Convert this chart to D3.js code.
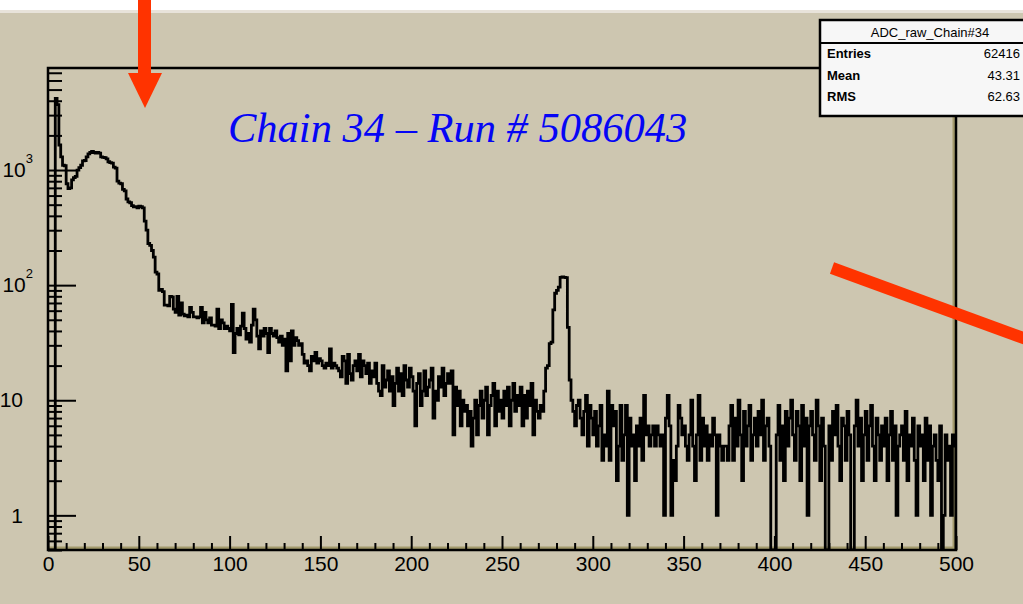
<!DOCTYPE html>
<html>
<head>
<meta charset="utf-8">
<script src="https://cdn.jsdelivr.net/npm/d3@7"></script>
<style>
  html, body { margin: 0; padding: 0; background: #cdc6b0; overflow: hidden; }
  svg { display: block; }
</style>
</head>
<body>
<div id="chart"></div>
<script>
// ADC counts for chain 34, one bin per channel (0..499)
var adcCounts = [
  0,0,0,0,4200,3700,1650,1300,1100,1090,
  760,690,700,820,860,880,1000,1050,1100,1200,
  1210,1300,1380,1420,1450,1420,1400,1420,1400,1300,
  1290,1280,1250,1180,1160,1150,1060,1040,800,770,
  760,680,660,560,530,520,490,480,480,470,
  485,480,470,360,300,230,222,200,175,130,
  125,90,92,88,67,67,66,80,79,62,
  58,80,55,70,56,54,55,53,64,58,
  53,53,52,53,64,47,58,50,47,52,
  45,45,44,62,42,50,47,42,44,42,
  40,68,26,38,42,37,44,57,42,34,
  38,32,45,62,50,36,28,40,36,42,
  38,26,42,38,36,40,35,32,36,30,
  34,18,38,22,40,30,35,33,30,31,
  25,21,22,20,18,24,22,26,21,23,
  22,20,19,21,20,28,19,21,20,19,
  18,16,24,22,14,25,17,15,20,22,
  18,25,16,22,20,17,21,14,18,16,
  21,14,12,11,20,13,15,18,12,16,
  9,14,19,12,17,11,20,15,13,19,
  16,12,6,14,17,9,12,18,11,13,
  15,19,7,12,10,16,13,19,11,14,
  17,14,18,5,13,9,12,6,10,8,
  9,6,8,4,7,10,5,9,12,7,
  10,13,5,9,11,14,6,12,8,10,
  7,12,9,13,6,10,14,8,11,9,
  13,6,11,7,12,9,14,5,10,8,
  7,9,8,12,19,20,31,32,61,85,
  90,96,117,118,117,116,43,15,10,8,
  6,9,10,7,5,8,11,4,9,7,
  5,8,4,6,9,3,5,4,12,3,
  9,6,8,2,4,9,3,5,9,1,
  7,4,5,2,6,4,7,3,11,5,
  6,4,5,6,4,6,5,4,5,1,
  7,11,6,1,3,2,4,9,7,5,
  6,4,3,5,10,4,2,5,11,3,
  7,4,6,3,5,4,7,5,1,5,
  4,3,4,4,3,6,9,3,7,4,
  10,5,2,8,4,6,9,3,5,7,
  4,8,5,10,3,6,7,4,0,0,
  0,5,9,3,6,2,8,4,7,10,
  5,3,8,6,2,9,4,7,1,6,
  8,5,3,10,6,2,7,4,0,0,
  6,3,8,5,9,4,2,7,6,3,
  8,5,0,0,6,10,4,7,2,5,
  8,3,6,9,4,2,7,5,3,6,
  4,7,2,5,8,3,6,1,4,5,
  6,3,8,2,5,4,7,3,1,6,
  4,5,2,7,3,6,1,4,5,3,
  2,6,0,1,5,3,4,1,5,4
];

var xTickValues = [0, 50, 100, 150, 200, 250, 300, 350, 400, 450, 500];
var yTickValues = [1, 10, 100, 1000];
// base and exponent of each y tick label
var yTickLabels = [["1", ""], ["10", ""], ["10", "2"], ["10", "3"]];

var chartTitle = "Chain 34 \u2013 Run # 5086043";
var statsName = "ADC_raw_Chain#34";
var statsLabels = ["Entries", "Mean", "RMS"];
var statsValues = ["62416", "43.31", "62.63"];

var
  WIDTH = 1023,
  HEIGHT = 604,

  BACKGROUND_COLOR = "#cdc6b0",
  SHADOW_COLOR = "#a39a6c",
  ARROW_COLOR = "#ff3300",
  TITLE_COLOR = "#0505f5",

  // frame of the histogram, in pixels
  FRAME_LEFT = 48,
  FRAME_RIGHT = 956,
  FRAME_TOP = 68,
  FRAME_BOTTOM = 550,

  AXIS_FONT = "'Liberation Sans', Arial, sans-serif",
  AXIS_FONT_SIZE = 21;

var svg = d3.select("#chart").append("svg")
  .attr("width", WIDTH)
  .attr("height", HEIGHT);

svg.append("rect")
  .attr("width", WIDTH)
  .attr("height", HEIGHT)
  .attr("fill", BACKGROUND_COLOR);

// white strip of the slide at the very top
svg.append("rect").attr("width", WIDTH).attr("height", 10).attr("fill", "#ffffff");
svg.append("rect").attr("y", 10).attr("width", WIDTH).attr("height", 3).attr("fill", "#e8e3da");

var x = d3.scaleLinear().domain([0, 500]).range([FRAME_LEFT, FRAME_RIGHT]);
var y = d3.scaleLog().domain([0.5, 7700]).range([FRAME_BOTTOM, FRAME_TOP]);

// 3D shadow of the frame on the bottom and right sides
svg.append("line")
  .attr("x1", FRAME_LEFT).attr("x2", FRAME_RIGHT)
  .attr("y1", FRAME_BOTTOM - 2).attr("y2", FRAME_BOTTOM - 2)
  .attr("stroke", SHADOW_COLOR).attr("stroke-width", 3);
svg.append("line")
  .attr("x1", FRAME_RIGHT - 2).attr("x2", FRAME_RIGHT - 2)
  .attr("y1", FRAME_TOP).attr("y2", FRAME_BOTTOM)
  .attr("stroke", SHADOW_COLOR).attr("stroke-width", 3);

svg.append("clipPath").attr("id", "frame-clip")
  .append("rect")
  .attr("x", FRAME_LEFT).attr("y", FRAME_TOP)
  .attr("width", FRAME_RIGHT - FRAME_LEFT)
  .attr("height", FRAME_BOTTOM - FRAME_TOP);

// histogram outline as steps; empty bins drop to the bottom of the frame
var path = d3.path();
path.moveTo(x(0), FRAME_BOTTOM);
adcCounts.forEach(function(count, i){
  var top = count > 0 ? y(count) : FRAME_BOTTOM;
  path.lineTo(x(i), top);
  path.lineTo(x(i + 1), top);
});
path.lineTo(x(adcCounts.length), FRAME_BOTTOM);

svg.append("path")
  .attr("d", path.toString())
  .attr("clip-path", "url(#frame-clip)")
  .attr("fill", "none")
  .attr("stroke", "#000")
  .attr("stroke-width", 2.8)
  .attr("stroke-linejoin", "miter");

function styleAxis(g){
  g.select(".domain").remove();
  g.attr("font-family", AXIS_FONT).attr("font-size", AXIS_FONT_SIZE);
  g.selectAll(".tick line").attr("stroke", "#000").attr("stroke-width", 2);
  g.selectAll(".tick text").attr("fill", "#000");
}

// x axis: major ticks every 50, minor every 10, pointing into the frame
var xMinor = d3.range(0, 501, 10).filter(function(v){ return v % 50 !== 0; });
svg.append("g")
  .attr("transform", "translate(0," + FRAME_BOTTOM + ")")
  .call(d3.axisBottom(x).tickValues(xMinor).tickSizeInner(-7).tickSizeOuter(0).tickFormat(""))
  .call(styleAxis);
svg.append("g")
  .attr("transform", "translate(0," + FRAME_BOTTOM + ")")
  .call(d3.axisBottom(x).tickValues(xTickValues).tickSizeInner(-14).tickSizeOuter(0)
    .tickPadding(6).tickFormat(d3.format("d")))
  .call(styleAxis);

// y axis: log scale, minor ticks at 2..9 of every decade
var yMinor = [];
[0.1, 1, 10, 100, 1000].forEach(function(decade){
  d3.range(2, 10).forEach(function(m){
    var v = m * decade;
    if (v >= 0.5 && v <= 7700) yMinor.push(v);
  });
});
svg.append("g")
  .attr("transform", "translate(" + FRAME_LEFT + ",0)")
  .call(d3.axisLeft(y).tickValues(yMinor).tickSizeInner(-14).tickSizeOuter(0).tickFormat(""))
  .call(styleAxis);
var yAxis = svg.append("g")
  .attr("transform", "translate(" + FRAME_LEFT + ",0)")
  .call(d3.axisLeft(y).tickValues(yTickValues).tickSizeInner(-28).tickSizeOuter(0)
    .tickPadding(25).tickFormat(function(d, i){ return yTickLabels[i][0]; }))
  .call(styleAxis);

yAxis.selectAll(".tick text").each(function(d, i){
  var label = yTickLabels[i];
  if (label[1]) {
    var text = d3.select(this);
    text.attr("x", -15);
    text.append("tspan")
      .attr("dy", -14)
      .attr("font-size", 13)
      .text(label[1]);
  }
});

// frame drawn over the ticks
svg.append("rect")
  .attr("x", FRAME_LEFT).attr("y", FRAME_TOP)
  .attr("width", FRAME_RIGHT - FRAME_LEFT)
  .attr("height", FRAME_BOTTOM - FRAME_TOP)
  .attr("fill", "none")
  .attr("stroke", "#000")
  .attr("stroke-width", 2.5);

svg.append("text")
  .attr("x", 228)
  .attr("y", 142)
  .attr("font-family", "'Liberation Serif', 'Times New Roman', serif")
  .attr("font-style", "italic")
  .attr("font-size", 42.5)
  .attr("fill", TITLE_COLOR)
  .text(chartTitle);

// statistics box, running past the right edge of the slide
var stats = svg.append("g").attr("font-family", AXIS_FONT).attr("font-weight", "bold").attr("font-size", 13);
stats.append("rect")
  .attr("x", 820).attr("y", 20)
  .attr("width", 230).attr("height", 96)
  .attr("fill", "#f7f7f7")
  .attr("stroke", "#000")
  .attr("stroke-width", 2.5);
stats.append("line")
  .attr("x1", 820).attr("x2", 1050)
  .attr("y1", 43).attr("y2", 43)
  .attr("stroke", "#000").attr("stroke-width", 2);
stats.append("text")
  .attr("x", 930).attr("y", 37)
  .attr("text-anchor", "middle")
  .attr("font-weight", "normal")
  .text(statsName);
statsLabels.forEach(function(label, i){
  var baseline = 58 + i * 21.5;
  stats.append("text").attr("x", 827).attr("y", baseline).text(label);
  stats.append("text").attr("x", 1020).attr("y", baseline)
    .attr("text-anchor", "end").attr("font-weight", "normal").text(statsValues[i]);
});

// red arrows pasted on the slide
svg.append("rect")
  .attr("x", 138).attr("y", 0)
  .attr("width", 13).attr("height", 78)
  .attr("fill", ARROW_COLOR);
svg.append("path")
  .attr("d", "M128,73 L162,73 L145,108 Z")
  .attr("fill", ARROW_COLOR);
svg.append("line")
  .attr("x1", 832).attr("y1", 268)
  .attr("x2", 1045).attr("y2", 346)
  .attr("stroke", ARROW_COLOR)
  .attr("stroke-width", 12);
</script>
</body>
</html>
